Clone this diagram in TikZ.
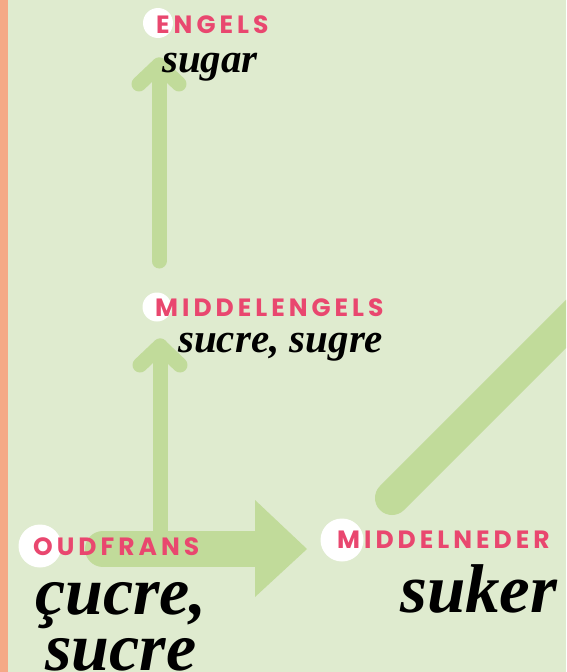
\documentclass[tikz,border=0pt]{standalone}
\usepackage{fontspec}
\setmainfont{Liberation Serif}
\newfontfamily\labelfont[LetterSpace=16]{Poppins}
\usetikzlibrary{positioning}
\definecolor{paleleaf}{HTML}{DFEBCF}
\definecolor{leafgreen}{HTML}{C1DB9A}
\definecolor{rosepink}{HTML}{E9476F}
\definecolor{peach}{HTML}{F5A986}

\begin{document}
\begin{tikzpicture}[x=1pt, y=-1pt,
    arr/.style={draw=leafgreen, line width=15pt, line cap=round, line join=round},
    dot/.style={circle, fill=white, inner sep=0pt, minimum size=#1},
    lang/.style={text=rosepink, font=\labelfont\bfseries\fontsize{25}{25}\selectfont, inner sep=0pt, anchor=base west},
    word/.style={font=\bfseries\itshape\fontsize{41}{41}\selectfont, inner sep=0pt, anchor=base west},
    bigword/.style={font=\bfseries\itshape\fontsize{68}{68}\selectfont, inner sep=0pt, anchor=base}]

    \useasboundingbox (0,0) rectangle (566,672);
    \clip (0,0) rectangle (566,672);
    \fill[paleleaf] (0,0) rectangle (566,672);
    \fill[peach] (0,0) rectangle (8,672);

    % punten voor de pijlen
    \coordinate (engels-tip) at (159,65);
    \coordinate (engels-foot) at (159,261);
    \coordinate (mengels-tip) at (160,346);
    \coordinate (oudfrans-tail) at (103,549);
    \coordinate (neder-tip) at (307,549);
    \coordinate (neder-foot) at (392,498);
    \coordinate (neder-far) at (652,238);

    \draw[arr] (engels-foot) -- (engels-tip);
    \draw[arr] ([shift={(-20,19)}]engels-tip) -- (engels-tip) -- ([shift={(20,19)}]engels-tip);

    \draw[arr] (oudfrans-tail -| mengels-tip) -- (mengels-tip);
    \draw[arr] ([shift={(-20,19)}]mengels-tip) -- (mengels-tip) -- ([shift={(20,19)}]mengels-tip);

    \draw[leafgreen, line width=36pt, line cap=round] (oudfrans-tail) -- ([xshift=-52pt]neder-tip);
    \fill[leafgreen] ([shift={(-52,-49)}]neder-tip) -- (neder-tip) -- ([shift={(-52,48)}]neder-tip) -- cycle;

    \draw[leafgreen, line width=34pt, line cap=round] (neder-foot) -- (neder-far);

    % talen
    \node[dot=30pt] (engels-dot) at (158,23) {};
    \node[lang] (engels) at (156,33) {ENGELS};
    \node[word] (engels-word) at (162,72) {sugar};

    \node[dot=29pt] (mengels-dot) at (157,307) {};
    \node[lang] (mengels) at (155,316) {MIDDELENGELS};
    \node[word] (mengels-word) at (178,352) {sucre, sugre};

    \node[dot=43pt] (oudfrans-dot) at (40,546) {};
    \node[lang] (oudfrans) at (33,555) {OUDFRANS};
    \node[bigword] (oudfrans-word) at (121,614) {çucre,};
    \node[bigword] (oudfrans-word2) at (121,670) {sucre};

    \node[dot=43pt] (neder-dot) at (342,540) {};
    \node[lang] (neder) at (337,548) {MIDDELNEDER};
    \node[word, font=\bfseries\itshape\fontsize{69}{69}\selectfont] (neder-word) at (400,612) {suker};

\end{tikzpicture}
\end{document}
